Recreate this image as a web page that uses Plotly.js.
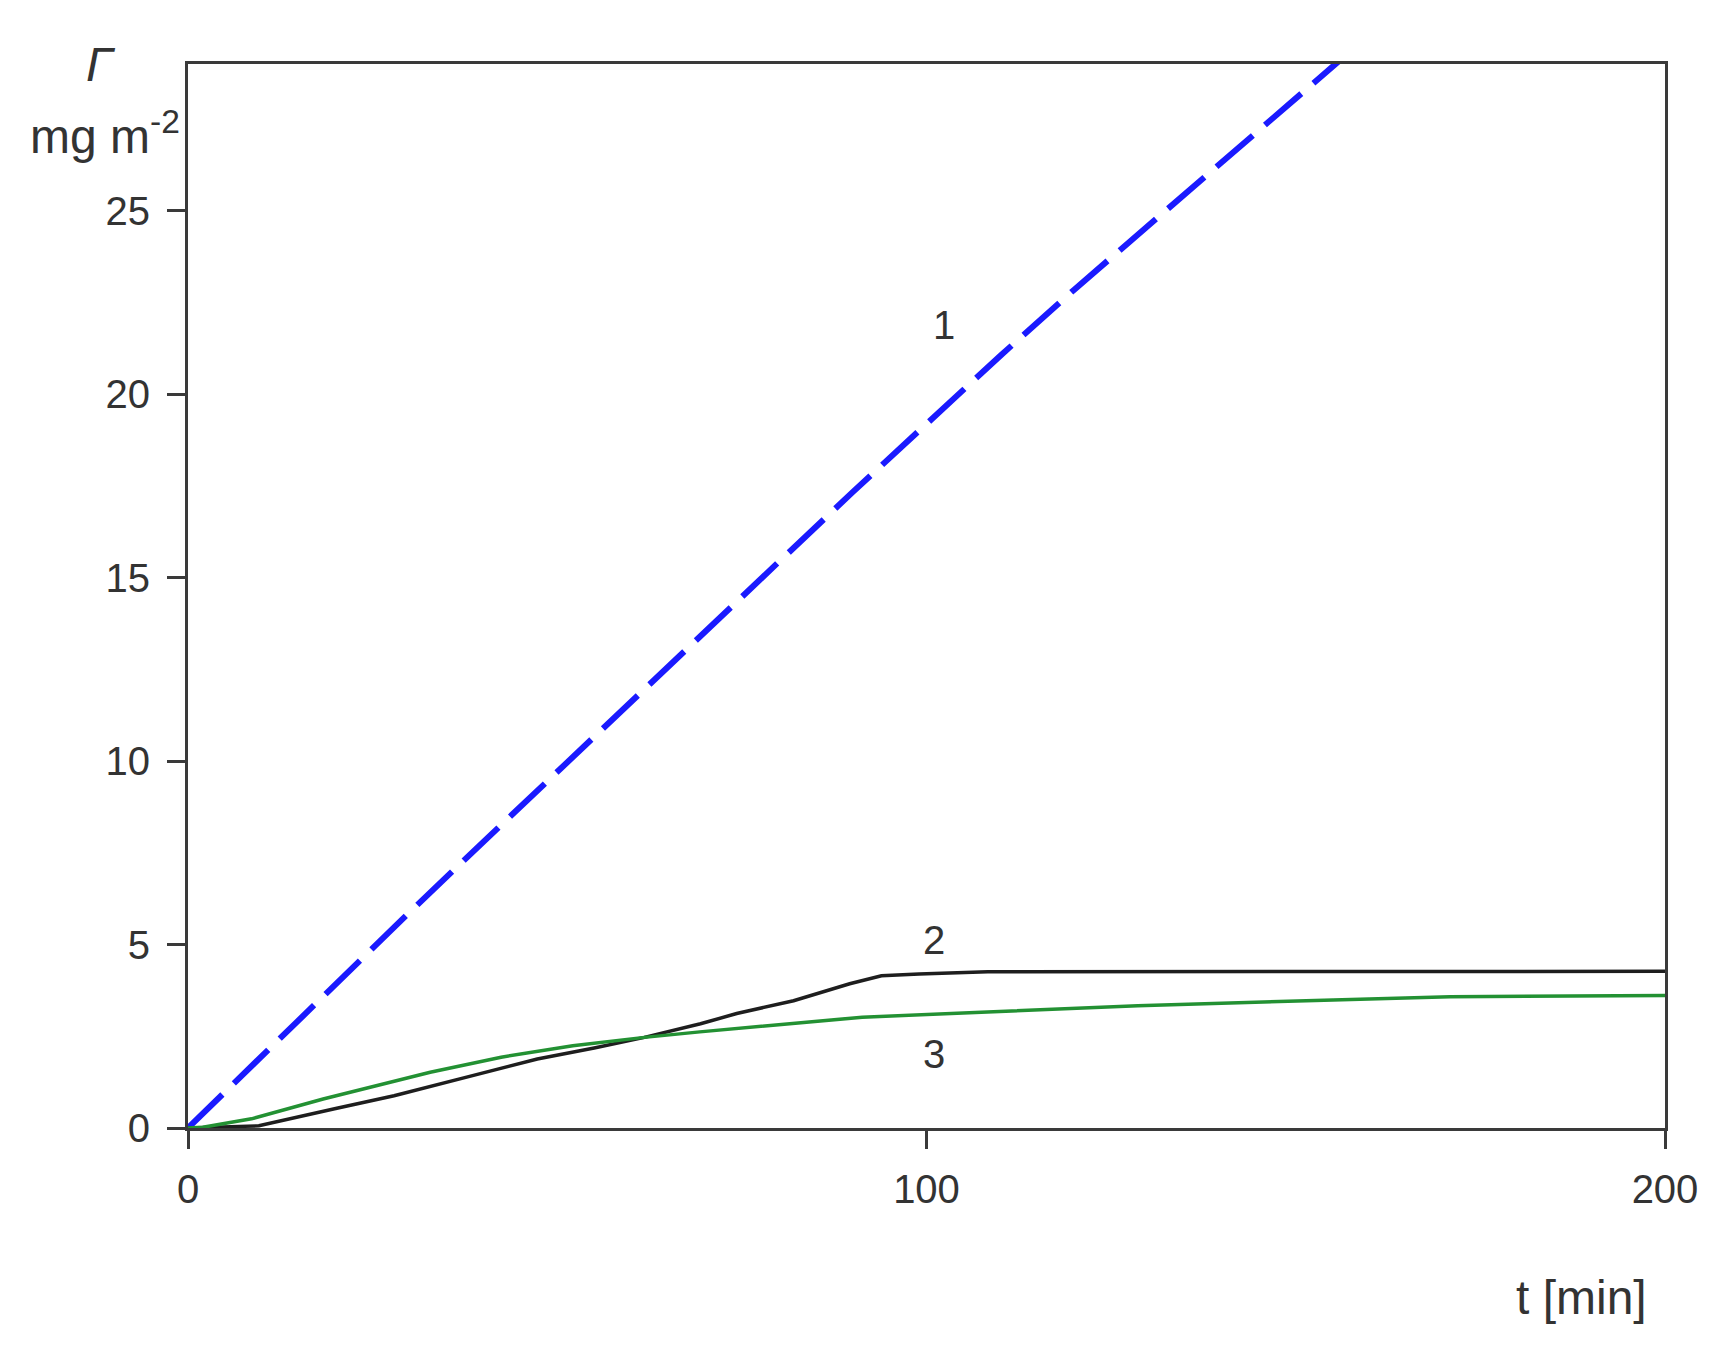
<!DOCTYPE html>
<html>
<head>
<meta charset="utf-8">
<script src="https://cdn.plot.ly/plotly-3.0.1.min.js"></script>
<style>
  html, body { margin: 0; padding: 0; background: #fff; }
  #chart { width: 1723px; height: 1365px; }
</style>
</head>
<body>
<div id="chart"></div>
<script>
// curve 1 (blue dashed)
const t1 = [0, 10, 20, 30, 40, 50, 60, 70, 80, 90, 100, 110, 120, 130, 140, 150, 160];
const g1 = [0, 1.97, 3.93, 5.88, 7.8, 9.72, 11.63, 13.53, 15.43, 17.33, 19.2, 21.05, 22.85, 24.6, 26.35, 28.05, 29.8];

// curve 2 (black)
const t2 = [0, 4, 9.6, 20, 27.9, 38, 47.3, 55, 61.8, 69.4, 74.3, 82, 89.6, 93.9, 99, 108.3, 150, 200];
const g2 = [0, 0.02, 0.06, 0.53, 0.88, 1.4, 1.88, 2.18, 2.47, 2.84, 3.12, 3.47, 3.93, 4.15, 4.2, 4.26, 4.27, 4.27];

// curve 3 (green)
const t3 = [0, 2, 8.6, 18.3, 32.8, 42.4, 52.1, 61.8, 69.3, 80, 91.3, 106.6, 128.6, 151.4, 170.9, 200];
const g3 = [0, 0.02, 0.25, 0.79, 1.52, 1.93, 2.24, 2.47, 2.62, 2.82, 3.02, 3.15, 3.33, 3.47, 3.58, 3.61];

const xTicks = [0, 100, 200];
const yTicks = [0, 5, 10, 15, 20, 25];

const curveLabels = ['1', '2', '3'];
const labelX = [102.4, 101, 101];
const labelY = [21.9, 5.13, 2.02];

const font = 'Liberation Sans, Arial, sans-serif';

const data = [{
    x: t1, y: g1, type: 'scatter', mode: 'lines',
    line: {color: '#1a1aff', width: 6, dash: '48px,16px'}
}, {
    x: t2, y: g2, type: 'scatter', mode: 'lines',
    line: {color: '#1e1e1e', width: 3.5}
}, {
    x: t3, y: g3, type: 'scatter', mode: 'lines',
    line: {color: '#239133', width: 3.5}
}];

const annotations = curveLabels.map((s, i) => ({
    x: labelX[i], y: labelY[i], xref: 'x', yref: 'y',
    text: s, showarrow: false,
    font: {family: font, size: 40, color: '#333'}
}));

annotations.push({
    x: -0.0589, y: 0.9995, xref: 'paper', yref: 'paper',
    text: '<i>Γ</i>', showarrow: false,
    xanchor: 'center', yanchor: 'middle',
    font: {family: font, size: 48, color: '#333'}
});
annotations.push({
    x: -0.004, y: 0.935, xref: 'paper', yref: 'paper',
    text: 'mg m<sup>-2</sup>', showarrow: false,
    xanchor: 'right', yanchor: 'middle',
    font: {family: font, size: 48, color: '#333'}
});
annotations.push({
    x: 0.9438, y: -0.159, xref: 'paper', yref: 'paper',
    text: 't [min]', showarrow: false,
    xanchor: 'center', yanchor: 'middle',
    font: {family: font, size: 48, color: '#333'}
});

const layout = {
    width: 1723,
    height: 1365,
    margin: {l: 188, r: 58, t: 64, b: 237},
    paper_bgcolor: '#fff',
    plot_bgcolor: '#fff',
    showlegend: false,
    font: {family: font, size: 40, color: '#333'},
    xaxis: {
        range: [0, 200],
        tickvals: xTicks,
        ticks: 'outside', ticklen: 18, tickwidth: 3, tickcolor: '#3a3a3a',
        showline: true, linecolor: '#3a3a3a', linewidth: 3, mirror: true,
        showgrid: false, zeroline: false,
        ticklabelstandoff: 6,
        tickfont: {family: font, size: 40, color: '#333'}
    },
    yaxis: {
        range: [0, 29],
        tickvals: yTicks,
        ticks: 'outside', ticklen: 18, tickwidth: 3, tickcolor: '#3a3a3a',
        showline: true, linecolor: '#3a3a3a', linewidth: 3, mirror: true,
        showgrid: false, zeroline: false,
        ticklabelstandoff: 9,
        tickfont: {family: font, size: 40, color: '#333'}
    },
    annotations: annotations
};

Plotly.newPlot('chart', data, layout, {displayModeBar: false, staticPlot: true});
</script>
</body>
</html>
